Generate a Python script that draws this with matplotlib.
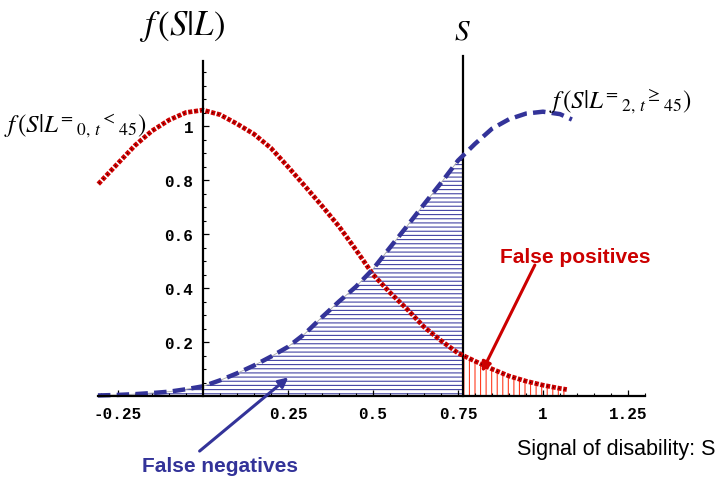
import numpy as np
import matplotlib
matplotlib.use('Agg')
import matplotlib.pyplot as plt
from matplotlib.patches import Rectangle

plt.rcParams['mathtext.fontset'] = 'stix'
plt.rcParams['lines.scale_dashes'] = False
plt.rcParams['hatch.linewidth'] = 0.8

# f(s|L=0, t<45)
s_red = [-0.308, -0.25, -0.20, -0.15, -0.10, -0.05, 0.00, 0.05, 0.10, 0.15,
         0.20, 0.25, 0.30, 0.35, 0.40, 0.45, 0.50, 0.55, 0.60, 0.65,
         0.70, 0.75, 0.80, 0.85, 0.90, 0.95, 1.00, 1.05, 1.07]
f_red = [0.785, 0.862, 0.928, 0.982, 1.022, 1.050, 1.059, 1.042, 1.008, 0.970,
         0.918, 0.849, 0.777, 0.704, 0.628, 0.541, 0.450, 0.383, 0.322, 0.256,
         0.205, 0.159, 0.129, 0.100, 0.074, 0.055, 0.040, 0.028, 0.024]

# f(s|L=2, t>=45)
s_blue = [-0.309, -0.25, -0.20, -0.15, -0.10, -0.05, 0.00, 0.05, 0.10, 0.15,
          0.20, 0.25, 0.30, 0.35, 0.40, 0.45, 0.50, 0.55, 0.60, 0.65,
          0.70, 0.75, 0.80, 0.85, 0.90, 0.95, 1.00, 1.05, 1.085]
f_blue = [0.002, 0.004, 0.007, 0.011, 0.016, 0.025, 0.036, 0.058, 0.084, 0.113,
          0.146, 0.182, 0.231, 0.292, 0.350, 0.405, 0.470, 0.550, 0.629, 0.710,
          0.789, 0.872, 0.934, 0.990, 1.025, 1.046, 1.053, 1.044, 1.024]

threshold = 0.765   # S

x_ticks = [-0.25, 0.25, 0.5, 0.75, 1, 1.25]
x_ticklabels = ['-0.25', '0.25', '0.5', '0.75', '1', '1.25']
y_ticks = [0.2, 0.4, 0.6, 0.8, 1]
y_ticklabels = ['0.2', '0.4', '0.6', '0.8', '1']

red = '#cc0000'
blue = '#333399'

fig = plt.figure(figsize=(7.17, 4.89), dpi=100)
ax = fig.add_axes([0, 0, 1, 1])
ax.set_xlim(-203 / 340, 514 / 340)
ax.set_ylim(-92 / 270, 397 / 270)
ax.patch.set_alpha(0)

# axes drawn through the origin
for side in ['top', 'right']:
    ax.spines[side].set_visible(False)
ax.spines['left'].set_position(('data', 0))
ax.spines['bottom'].set_position(('data', 0))
ax.spines['left'].set_bounds(0, 1.24)
ax.spines['bottom'].set_bounds(-0.309, 1.30)
ax.spines['left'].set_linewidth(1.6)
ax.spines['bottom'].set_linewidth(1.6)

ax.set_xticks(x_ticks)
ax.set_xticklabels(x_ticklabels)
ax.set_xticks([t for t in np.round(np.arange(-0.30, 1.31, 0.05), 2) if t not in x_ticks and t != 0], minor=True)
ax.set_yticks(y_ticks)
ax.set_yticklabels(y_ticklabels)
ax.set_yticks([t for t in np.round(np.arange(0.05, 1.21, 0.05), 2) if t not in y_ticks], minor=True)
ax.tick_params(which='major', direction='in', length=4, width=0.9, pad=7)
ax.tick_params(which='minor', direction='in', length=2.2, width=0.8)
for lab in ax.get_xticklabels() + ax.get_yticklabels():
    lab.set_fontfamily('Liberation Mono')
    lab.set_fontweight('bold')
    lab.set_fontsize(11.5)

# shaded error areas
neg = ax.fill_between(s_blue, 0, f_blue, facecolor='none', edgecolor='#4444a4',
                      hatch='----', linewidth=0)
neg.set_clip_path(Rectangle((-1, -1), threshold + 1, 3, transform=ax.transData))
edge_b, = ax.plot(s_blue, f_blue, color='#aaaaaa', lw=0.6)
edge_b.set_clip_path(Rectangle((-1, -1), threshold + 1, 3, transform=ax.transData))

pos = ax.fill_between(s_red, 0, f_red, facecolor='none', edgecolor='#ff3b1f',
                      hatch='|||', linewidth=0)
pos.set_clip_path(Rectangle((threshold, -1), 2, 3, transform=ax.transData))

# threshold line
ax.plot([threshold, threshold], [0, 1.26], color='black', lw=1.6)

# curves
ax.plot(s_red, f_red, color=red, lw=3.4, linestyle=(0, (3.0, 1.2)), dash_capstyle='butt')
ax.plot(s_red, f_red, color='#220000', lw=0.8, linestyle=(3.4, (0.8, 3.4)), dash_capstyle='butt')
ax.plot(s_blue, f_blue, color=blue, lw=3.2, linestyle=(0, (9, 4.5)), dash_capstyle='butt')

# arrows
ax.annotate('', xy=(0.82, 0.089), xytext=(0.976, 0.485), annotation_clip=False,
            arrowprops=dict(arrowstyle='-|>', color=red, lw=2.2, mutation_scale=14,
                            shrinkA=0, shrinkB=0))
ax.annotate('', xy=(0.251, 0.069), xytext=(-0.01, -0.204), annotation_clip=False,
            arrowprops=dict(arrowstyle='-|>', color=blue, lw=2.2, mutation_scale=14,
                            shrinkA=0, shrinkB=0))

def px(x, y):
    return x / 717, 1 - y / 489

fig.text(*px(182, 27), r'$f\,(S|L)$', fontsize=25, ha='center', va='center')
fig.text(*px(462, 32), r'$S$', fontsize=21, ha='center', va='center')
fig.text(*px(75, 126), r'$f\,(S|L{}^{=}{}_{0,\,t}{}^{<}{}_{45})$', fontsize=18,
         ha='center', va='center')
fig.text(*px(620, 101), r'$f\,(S|L{}^{=}{}_{2,\,t}{}^{\geq}{}_{45})$', fontsize=18,
         ha='center', va='center')

fig.text(*px(575, 258), 'False positives', color=red, fontsize=15,
         fontweight='bold', family='Liberation Sans', ha='center', va='center')
fig.text(*px(220, 467), 'False negatives', color=blue, fontsize=15,
         fontweight='bold', family='Liberation Sans', ha='center', va='center')
fig.text(*px(616, 450), 'Signal of disability: S', color='black', fontsize=15.5,
         family='Liberation Sans', ha='center', va='center')

fig.savefig('out.png', dpi=100)
